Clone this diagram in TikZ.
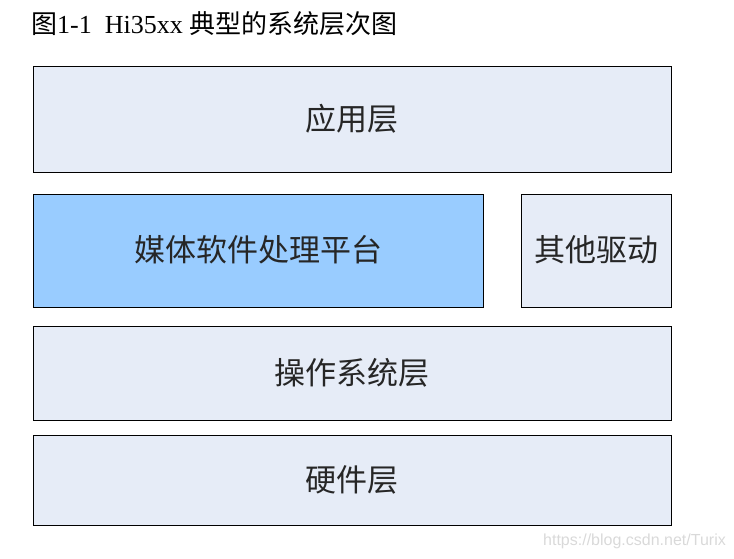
\documentclass[tikz,border=0pt]{standalone}
\usepackage{fontspec}
\setmainfont{Liberation Serif}
\newfontfamily\cjk{Noto Sans CJK SC}
\newfontfamily\wm{Liberation Sans}
\definecolor{layerfill}{HTML}{E6ECF7}
\definecolor{mediafill}{HTML}{99CCFF}
\tikzset{
  layer/.style={draw=black, line width=0.9pt, fill=layerfill, inner sep=0pt},
  media/.style={layer, fill=mediafill},
  lbl/.style={font=\cjk\fontsize{31}{33}\selectfont, text=black!85}
}
\begin{document}
\begin{tikzpicture}[x=1pt,y=-1pt]
\useasboundingbox (0,0) rectangle (734,559);
\node[anchor=west, inner sep=0pt] (title) at (31,24) {\fontsize{26}{28}\selectfont{\cjk 图}1-1\ \ Hi35xx {\cjk 典型的系统层次图}};
\draw[layer] (33,66) rectangle (671,172);
\node[lbl] (app) at (352,119) {应用层};
\draw[media] (33,194) rectangle (483,307);
\node[lbl] (media) at (258,250) {媒体软件处理平台};
\draw[layer] (521,194) rectangle (671,307);
\node[lbl] (drv) at (596,250) {其他驱动};
\draw[layer] (33,326) rectangle (671,420);
\node[lbl] (os) at (352,373) {操作系统层};
\draw[layer] (33,435) rectangle (671,525);
\node[lbl] (hw) at (352,480) {硬件层};
\node[anchor=east, inner sep=0pt, font=\wm\fontsize{16}{18}\selectfont, text=black!15] (mark) at (726,541) {https://blog.csdn.net/Turix};
\end{tikzpicture}
\end{document}
